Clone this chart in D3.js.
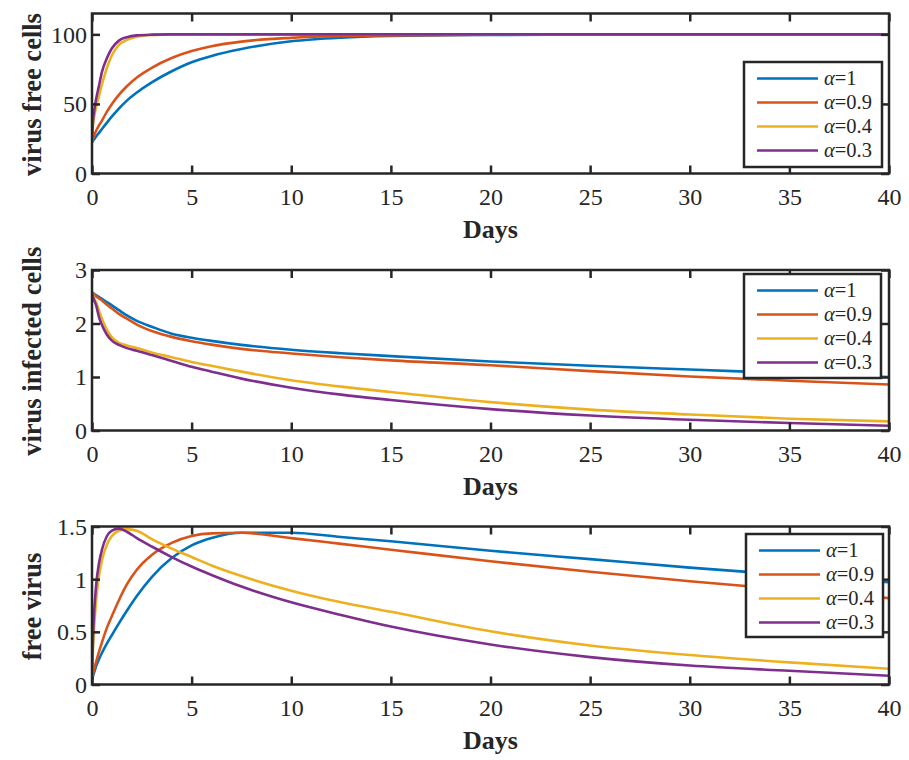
<!DOCTYPE html>
<html>
<head>
<meta charset="utf-8">
<script src="https://cdn.jsdelivr.net/npm/d3@7"></script>
<style>
  html, body { margin: 0; padding: 0; background: #fff; }
  svg { display: block; }
  text { font-family: "Liberation Serif", "Times New Roman", serif; fill: #262626; }
</style>
</head>
<body>
<svg id="chart" width="909" height="760"></svg>
<script>
// ---------------- data ----------------
const days = [0, 0.05, 0.1, 0.2, 0.35, 0.5, 0.75, 1, 1.35, 1.75, 2.25, 3, 4, 5, 6, 7.5, 10, 12.5, 15, 20, 25, 30, 35, 40];
const seriesNames = ["α=1", "α=0.9", "α=0.4", "α=0.3"];
const xTicks = [0, 5, 10, 15, 20, 25, 30, 35, 40];

// panel 1: virus free cells
const freeCellsA1  = [22.5, 23.5, 24.5, 26.4, 29.2, 32, 36.6, 41, 46.7, 52.4, 58.2, 65.5, 73.5, 80, 84.5, 89.5, 95, 97.6, 98.8, 99.6, 99.9, 100, 100, 100];
const freeCellsA09 = [22.5, 25, 27, 30.5, 34.5, 38, 44.5, 50, 56.5, 62.7, 69, 76, 83, 88, 91.5, 94.8, 97.5, 98.8, 99.3, 99.8, 99.95, 100, 100, 100];
const freeCellsA04 = [22.5, 35, 40, 47.5, 55.5, 64, 76, 85, 92.5, 96, 98.3, 99.5, 99.9, 100, 100, 100, 100, 100, 100, 100, 100, 100, 100, 100];
const freeCellsA03 = [22.5, 38, 44, 53, 63, 73, 83, 90, 95.5, 98, 99.3, 99.8, 100, 100, 100, 100, 100, 100, 100, 100, 100, 100, 100, 100];
const freeCellsTicks = [0, 50, 100];

// panel 2: virus infected cells
const infectedA1  = [2.58, 2.57, 2.555, 2.53, 2.495, 2.46, 2.40, 2.34, 2.25, 2.15, 2.05, 1.94, 1.81, 1.735, 1.675, 1.60, 1.51, 1.445, 1.39, 1.29, 1.21, 1.14, 1.07, 1.00];
const infectedA09 = [2.58, 2.565, 2.55, 2.51, 2.47, 2.43, 2.35, 2.28, 2.18, 2.09, 1.98, 1.86, 1.75, 1.67, 1.605, 1.525, 1.44, 1.37, 1.31, 1.22, 1.11, 1.01, 0.93, 0.86];
const infectedA04 = [2.58, 2.53, 2.48, 2.40, 2.24, 2.09, 1.88, 1.74, 1.64, 1.59, 1.54, 1.46, 1.37, 1.28, 1.21, 1.10, 0.94, 0.82, 0.72, 0.53, 0.39, 0.30, 0.22, 0.17];
const infectedA03 = [2.58, 2.50, 2.44, 2.35, 2.12, 1.97, 1.79, 1.68, 1.60, 1.54, 1.49, 1.41, 1.30, 1.19, 1.10, 0.97, 0.80, 0.67, 0.57, 0.40, 0.28, 0.20, 0.14, 0.09];
const infectedTicks = [0, 1, 2, 3];

// panel 3: free virus
const virusA1  = [0.05, 0.08, 0.11, 0.17, 0.24, 0.30, 0.39, 0.47, 0.58, 0.70, 0.84, 1.02, 1.20, 1.32, 1.39, 1.44, 1.44, 1.40, 1.36, 1.27, 1.19, 1.11, 1.04, 0.97];
const virusA09 = [0.05, 0.10, 0.14, 0.21, 0.31, 0.40, 0.54, 0.65, 0.80, 0.95, 1.09, 1.23, 1.345, 1.41, 1.435, 1.44, 1.39, 1.335, 1.28, 1.17, 1.07, 0.98, 0.90, 0.82];
const virusA04 = [0.05, 0.35, 0.52, 0.78, 1.03, 1.18, 1.33, 1.41, 1.46, 1.475, 1.46, 1.38, 1.29, 1.21, 1.13, 1.03, 0.89, 0.78, 0.69, 0.505, 0.37, 0.28, 0.21, 0.15];
const virusA03 = [0.05, 0.45, 0.66, 0.93, 1.15, 1.28, 1.41, 1.46, 1.48, 1.45, 1.39, 1.31, 1.21, 1.12, 1.04, 0.93, 0.78, 0.66, 0.55, 0.38, 0.26, 0.18, 0.13, 0.083];
const virusTicks = [0, 0.5, 1, 1.5];

// ---------------- styles ----------------
const colors = ["#0072BD", "#D95319", "#EDB120", "#7E2F8E"];
const axisColor = "#262626";

const panels = [
  { label: "virus free cells", series: [freeCellsA1, freeCellsA09, freeCellsA04, freeCellsA03],
    yDomain: [0, 115], yTicks: freeCellsTicks, top: 13.5, bottom: 173.5,
    legend: { x: 744, y: 62, w: 138, h: 105 } },
  { label: "virus infected cells", series: [infectedA1, infectedA09, infectedA04, infectedA03],
    yDomain: [0, 3], yTicks: infectedTicks, top: 270, bottom: 430.5,
    legend: { x: 744, y: 274, w: 137, h: 104 } },
  { label: "free virus", series: [virusA1, virusA09, virusA04, virusA03],
    yDomain: [0, 1.5], yTicks: virusTicks, top: 526.5, bottom: 684.5,
    legend: { x: 746, y: 534, w: 137, h: 103 } }
];

const left = 92, right = 889;
const svg = d3.select("#chart");
svg.append("rect").attr("width", 909).attr("height", 760).attr("fill", "#fff");

const x = d3.scaleLinear().domain([0, 40]).range([left, right]);

panels.forEach((p, pi) => {
  const y = d3.scaleLinear().domain(p.yDomain).range([p.bottom, p.top]);
  const g = svg.append("g");

  const clipId = "clip" + pi;
  svg.append("clipPath").attr("id", clipId).append("rect")
    .attr("x", left).attr("y", p.top).attr("width", right - left).attr("height", p.bottom - p.top);

  // lines
  const line = d3.line().x((d, i) => x(days[i])).y(d => y(d)).curve(d3.curveMonotoneX);
  const lg = g.append("g").attr("clip-path", `url(#${clipId})`);
  p.series.forEach((s, si) => {
    lg.append("path").datum(s).attr("d", line)
      .attr("fill", "none").attr("stroke", colors[si]).attr("stroke-width", 2.6)
      .attr("stroke-linejoin", "round").attr("stroke-linecap", "round");
  });

  // axes (ticks pointing inward)
  const ax = g.append("g").attr("transform", `translate(0,${p.bottom})`)
    .call(d3.axisBottom(x).tickValues(xTicks).tickSize(-8).tickPadding(0).tickFormat(d3.format("d")));
  ax.selectAll("text").attr("dy", null).attr("y", 31).attr("font-size", 24);
  const axT = g.append("g").attr("transform", `translate(0,${p.top})`)
    .call(d3.axisTop(x).tickValues(xTicks).tickSize(-8).tickFormat(""));
  const ay = g.append("g").attr("transform", `translate(${left},0)`)
    .call(d3.axisLeft(y).tickValues(p.yTicks).tickSize(-8).tickPadding(0).tickFormat(d3.format("")));
  ay.selectAll("text").attr("x", -5).attr("dy", "0.33em").attr("font-size", 24);
  const ayR = g.append("g").attr("transform", `translate(${right},0)`)
    .call(d3.axisRight(y).tickValues(p.yTicks).tickSize(-8).tickFormat(""));
  [ax, axT, ay, ayR].forEach(a => {
    a.select(".domain").remove();
    a.selectAll("line").attr("stroke", axisColor).attr("stroke-width", 2.5);
    a.selectAll("text").attr("fill", axisColor)
      .attr("font-family", '"Liberation Serif", "Times New Roman", serif');
  });

  g.append("rect").attr("x", left).attr("y", p.top).attr("width", right - left).attr("height", p.bottom - p.top)
    .attr("fill", "none").attr("stroke", axisColor).attr("stroke-width", 2.5);

  // axis labels
  g.append("text").attr("x", (left + right) / 2).attr("y", p.bottom + 64.5)
    .attr("text-anchor", "middle").attr("font-size", 26).attr("font-weight", "bold").text("Days");
  g.append("text")
    .attr("transform", `translate(41,${(p.top + p.bottom) / 2 + 1}) rotate(-90)`)
    .attr("text-anchor", "middle").attr("font-size", 26.5).attr("font-weight", "bold").text(p.label);

  // legend
  const L = p.legend;
  const leg = g.append("g");
  leg.append("rect").attr("x", L.x).attr("y", L.y).attr("width", L.w).attr("height", L.h)
    .attr("fill", "#fff").attr("stroke", axisColor).attr("stroke-width", 2.5);
  seriesNames.forEach((name, si) => {
    const cy = L.y + 16.5 + si * 24;
    leg.append("line").attr("x1", L.x + 13).attr("x2", L.x + 74).attr("y1", cy).attr("y2", cy)
      .attr("stroke", colors[si]).attr("stroke-width", 2.6);
    const t = leg.append("text").attr("x", L.x + 80).attr("y", cy).attr("dy", "0.33em").attr("font-size", 20.5);
    t.append("tspan").attr("font-style", "italic").text("α");
    t.append("tspan").text(name.slice(1));
  });
});
</script>
</body>
</html>
